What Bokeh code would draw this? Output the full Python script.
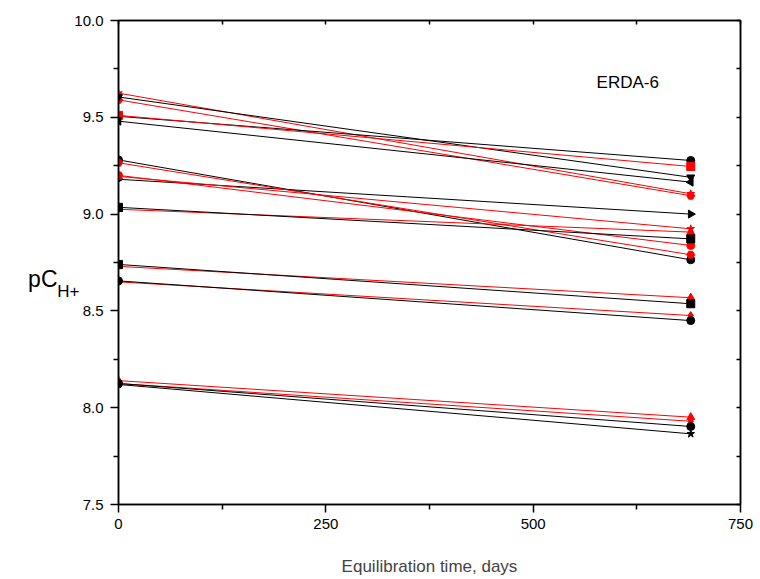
import math
from bokeh.plotting import figure
from bokeh.models import Range1d, LinearAxis, Label, FixedTicker
from bokeh.embed import file_html
from bokeh.resources import INLINE

# ---- data ----
days = [0, 690]
start_pch = [9.625, 9.59, 9.605, 9.505, 9.51, 9.48,
             9.18, 9.28, 9.265, 9.20, 9.195, 9.025, 9.035,
             8.73, 8.74, 8.65, 8.655,
             8.14, 8.125, 8.125, 8.12]
end_pch = [9.105, 9.095, 9.19, 9.277, 9.246, 9.165,
           9.0, 8.764, 8.79, 8.838, 8.924, 8.907, 8.872,
           8.568, 8.537, 8.476, 8.45,
           7.951, 7.93, 7.903, 7.865]
y_ticks = [7.5, 8.0, 8.5, 9.0, 9.5, 10.0]
y_minor = [7.75, 8.25, 8.75, 9.25, 9.75]
x_ticks = [0, 250, 500, 750]
x_minor = [125, 375, 625]

# ---- styles ----
colors = ["red", "red", "black", "black", "red", "black",
          "black", "black", "red", "red", "red", "red", "black",
          "red", "black", "red", "black",
          "red", "red", "black", "black"]
markers = ["star", "hex", "inverted_triangle", "circle", "square", "triangle",
           "triangle", "circle", "hex", "circle", "star", "triangle", "square",
           "triangle", "square", "diamond", "circle",
           "triangle", "diamond", "circle", "star"]
angles = [0, 0, 0, 0, 0, math.pi / 2,
          -math.pi / 2, 0, 0, 0, 0, 0, 0,
          0, 0, 0, 0,
          0, 0, 0, 0]

FONT = "Liberation Sans"

p = figure(width=760, height=579, output_backend="svg", toolbar_location=None,
           x_range=Range1d(0, 750), y_range=Range1d(7.5, 10.0),
           min_border_left=118, min_border_right=20, min_border_top=20,
           min_border_bottom=75)
p.grid.visible = False
p.outline_line_color = "black"
p.outline_line_width = 1.5
p.background_fill_color = "white"
p.border_fill_color = "white"

for s, e, c, m, a in zip(start_pch, end_pch, colors, markers, angles):
    p.line(days, [s, e], line_color=c, line_width=1)
    p.scatter(days, [s, e], marker=m, size=8, angle=a,
              fill_color=c, line_color=c)

# bottom / left axes
for ax in (p.xaxis[0], p.yaxis[0]):
    ax.axis_line_width = 1.5
    ax.axis_line_color = "black"
    ax.major_tick_line_width = 1.5
    ax.minor_tick_line_width = 1.5
    ax.major_tick_out = 8
    ax.major_tick_in = 0
    ax.minor_tick_out = 5
    ax.minor_tick_in = 0
    ax.major_label_text_font = FONT
    ax.major_label_text_font_size = "15px"
    ax.major_label_text_color = "black"

p.xaxis[0].ticker = FixedTicker(ticks=x_ticks, minor_ticks=x_minor)
p.yaxis[0].ticker = FixedTicker(ticks=y_ticks, minor_ticks=y_minor)
p.yaxis[0].major_label_overrides = {v: f"{v:.1f}" for v in y_ticks}
p.yaxis[0].major_label_standoff = 7
p.xaxis[0].major_label_standoff = 6
p.xaxis[0].axis_label = "Equilibration time, days"
p.xaxis[0].axis_label_text_font = FONT
p.xaxis[0].axis_label_text_font_size = "17px"
p.xaxis[0].axis_label_text_font_style = "normal"
p.xaxis[0].axis_label_standoff = 25

# top / right axes: inward ticks only (all as minor ticks, so no labels)
top = LinearAxis(ticker=FixedTicker(ticks=[], minor_ticks=sorted(x_ticks + x_minor)))
right = LinearAxis(ticker=FixedTicker(ticks=[], minor_ticks=sorted(y_ticks + y_minor)))
for ax in (top, right):
    ax.axis_line_width = 1.5
    ax.minor_tick_line_width = 1.5
    ax.major_tick_out = 0
    ax.major_tick_in = 0
    ax.minor_tick_out = 0
    ax.minor_tick_in = 4
p.add_layout(top, "above")
p.add_layout(right, "right")

# y-axis title "pC" with subscript "H+": label-only axes stacked left of the main y axis
def title_axis(text, size, standoff, line_height):
    ax = LinearAxis(ticker=FixedTicker(ticks=[], minor_ticks=[]))
    ax.axis_line_color = None
    ax.major_tick_out = 0
    ax.major_tick_in = 0
    ax.minor_tick_out = 0
    ax.minor_tick_in = 0
    ax.major_label_standoff = 0
    ax.axis_label = text
    ax.axis_label_orientation = "horizontal"
    ax.axis_label_standoff = standoff
    ax.axis_label_text_font = FONT
    ax.axis_label_text_font_size = size
    ax.axis_label_text_font_style = "normal"
    ax.axis_label_text_color = "black"
    ax.axis_label_text_line_height = line_height
    p.add_layout(ax, "left")

title_axis("\nH+", "17px", -8, 3.0)
title_axis("\npC", "23px", -3, 1.3)

p.add_layout(Label(x=614, y=9.68, text="ERDA-6", text_font=FONT,
                   text_font_size="17px", text_align="center",
                   text_baseline="middle", text_color="black"))

open("out.html", "w").write(file_html(p, INLINE))
